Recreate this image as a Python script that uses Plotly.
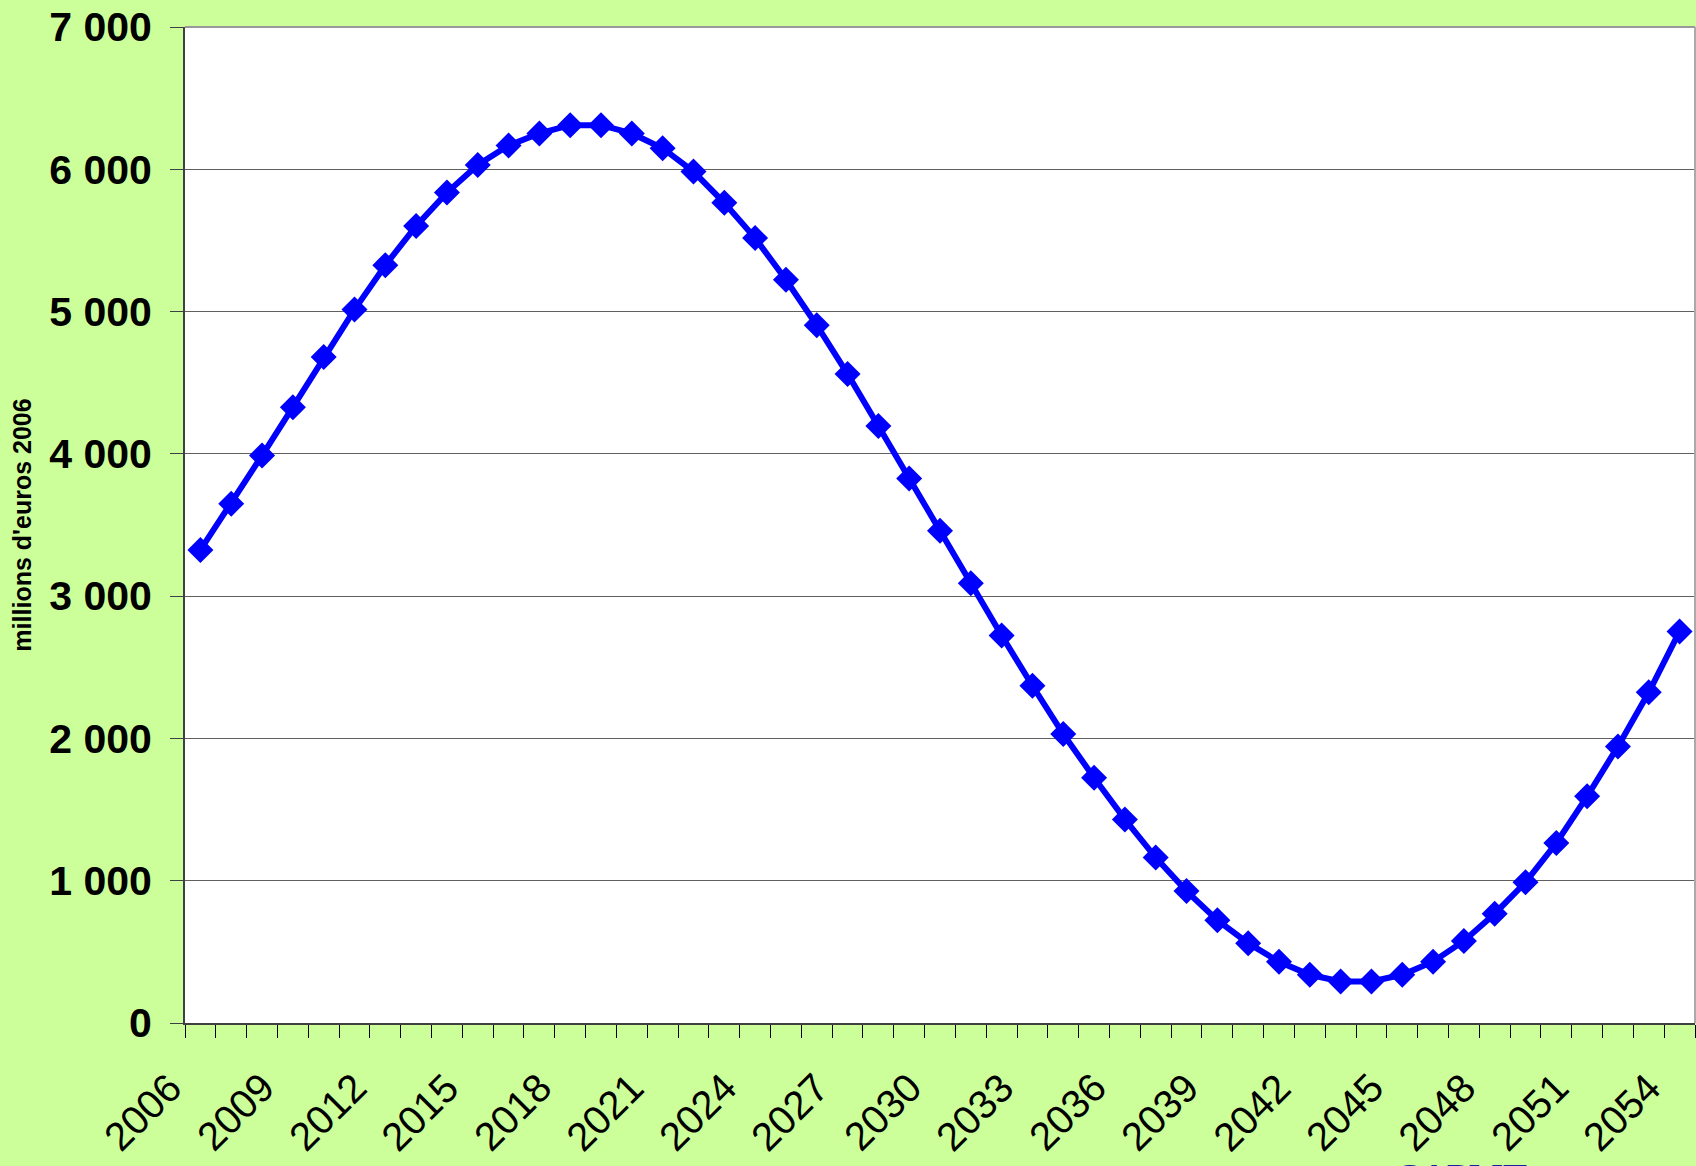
import plotly.graph_objects as go

years = list(range(2006, 2055))
values = [3325, 3650, 3988, 4328, 4680, 5014, 5326, 5602, 5836, 6030,
          6168, 6252, 6310, 6310, 6252, 6148, 5984, 5764, 5517, 5223,
          4904, 4562, 4196, 3826, 3459, 3091, 2724, 2370, 2031, 1724,
          1431, 1163, 927, 722, 561, 430, 339, 292, 292, 339,
          431, 577, 768, 989, 1265, 1593, 1944, 2324, 2752]

y_tickvals = [0, 1000, 2000, 3000, 4000, 5000, 6000, 7000]
y_ticktext = ["0", "1 000", "2 000", "3 000", "4 000", "5 000", "6 000", "7 000"]
x_labels = list(range(2006, 2055, 3))
x_ticktext = [str(v) for v in x_labels]

y_title = "millions d'euros 2006"
source_text = "CAPMT"

fig = go.Figure()
fig.add_trace(go.Scatter(
    x=years, y=values, mode="lines+markers",
    line=dict(color="#0000FF", width=6),
    marker=dict(symbol="diamond", size=20, color="#0000FF"),
    showlegend=False, cliponaxis=False,
))

fig.update_layout(
    width=1696, height=1166,
    paper_bgcolor="#CCFF99", plot_bgcolor="#FFFFFF",
    margin=dict(l=185, r=1, t=27, b=143),
    font=dict(family="Liberation Sans, Arial, sans-serif", color="#000000"),
    xaxis=dict(
        range=[2005.5, 2054.5], showgrid=False, zeroline=False,
        showticklabels=False, ticks="",
        showline=True, linecolor="#404040", linewidth=2,
        minor=dict(ticks="outside", ticklen=13, tickcolor="#000000", tickwidth=1,
                   tick0=2005.5, dtick=1, showgrid=False),
    ),
    yaxis=dict(
        range=[0, 7000], tickmode="array", tickvals=y_tickvals, ticktext=y_ticktext,
        ticks="outside", ticklen=13, tickcolor="#404040", tickwidth=1,
        tickfont=dict(size=41, color="#000000", family="Liberation Sans, Arial, sans-serif", weight="bold"),
        ticklabelstandoff=10,
        showgrid=True, gridcolor="#606060", gridwidth=1, zeroline=False,
        showline=True, linecolor="#404040", linewidth=2,
        title=dict(text=y_title, font=dict(size=25, weight="bold"), standoff=10),
    ),
)

# rotated year labels (every third category), placed through the x scale
for yr, txt in zip(x_labels, x_ticktext):
    fig.add_annotation(text=txt, x=yr, xref="x", y=0, yref="paper",
                       textangle=-45, xanchor="right", yanchor="top",
                       xshift=-8, yshift=-39, showarrow=False,
                       font=dict(size=40, color="#000000"))

fig.add_shape(type="line", xref="paper", yref="paper", x0=0, x1=1, y0=1, y1=1,
              line=dict(color="#999999", width=2))
fig.add_shape(type="line", xref="paper", yref="paper", x0=1, x1=1, y0=0, y1=1,
              line=dict(color="#AAAAAA", width=2))

fig.add_annotation(text=source_text, xref="paper", yref="paper", x=0.845, y=0,
                   xanchor="center", yanchor="top", yshift=-132, showarrow=False,
                   font=dict(family="Liberation Serif, serif", size=36, color="#1F1F9F", weight="bold"))

fig.write_html("out.html", config={"displayModeBar": False},
               post_script="document.body.style.margin='0';document.body.style.overflow='hidden';")
